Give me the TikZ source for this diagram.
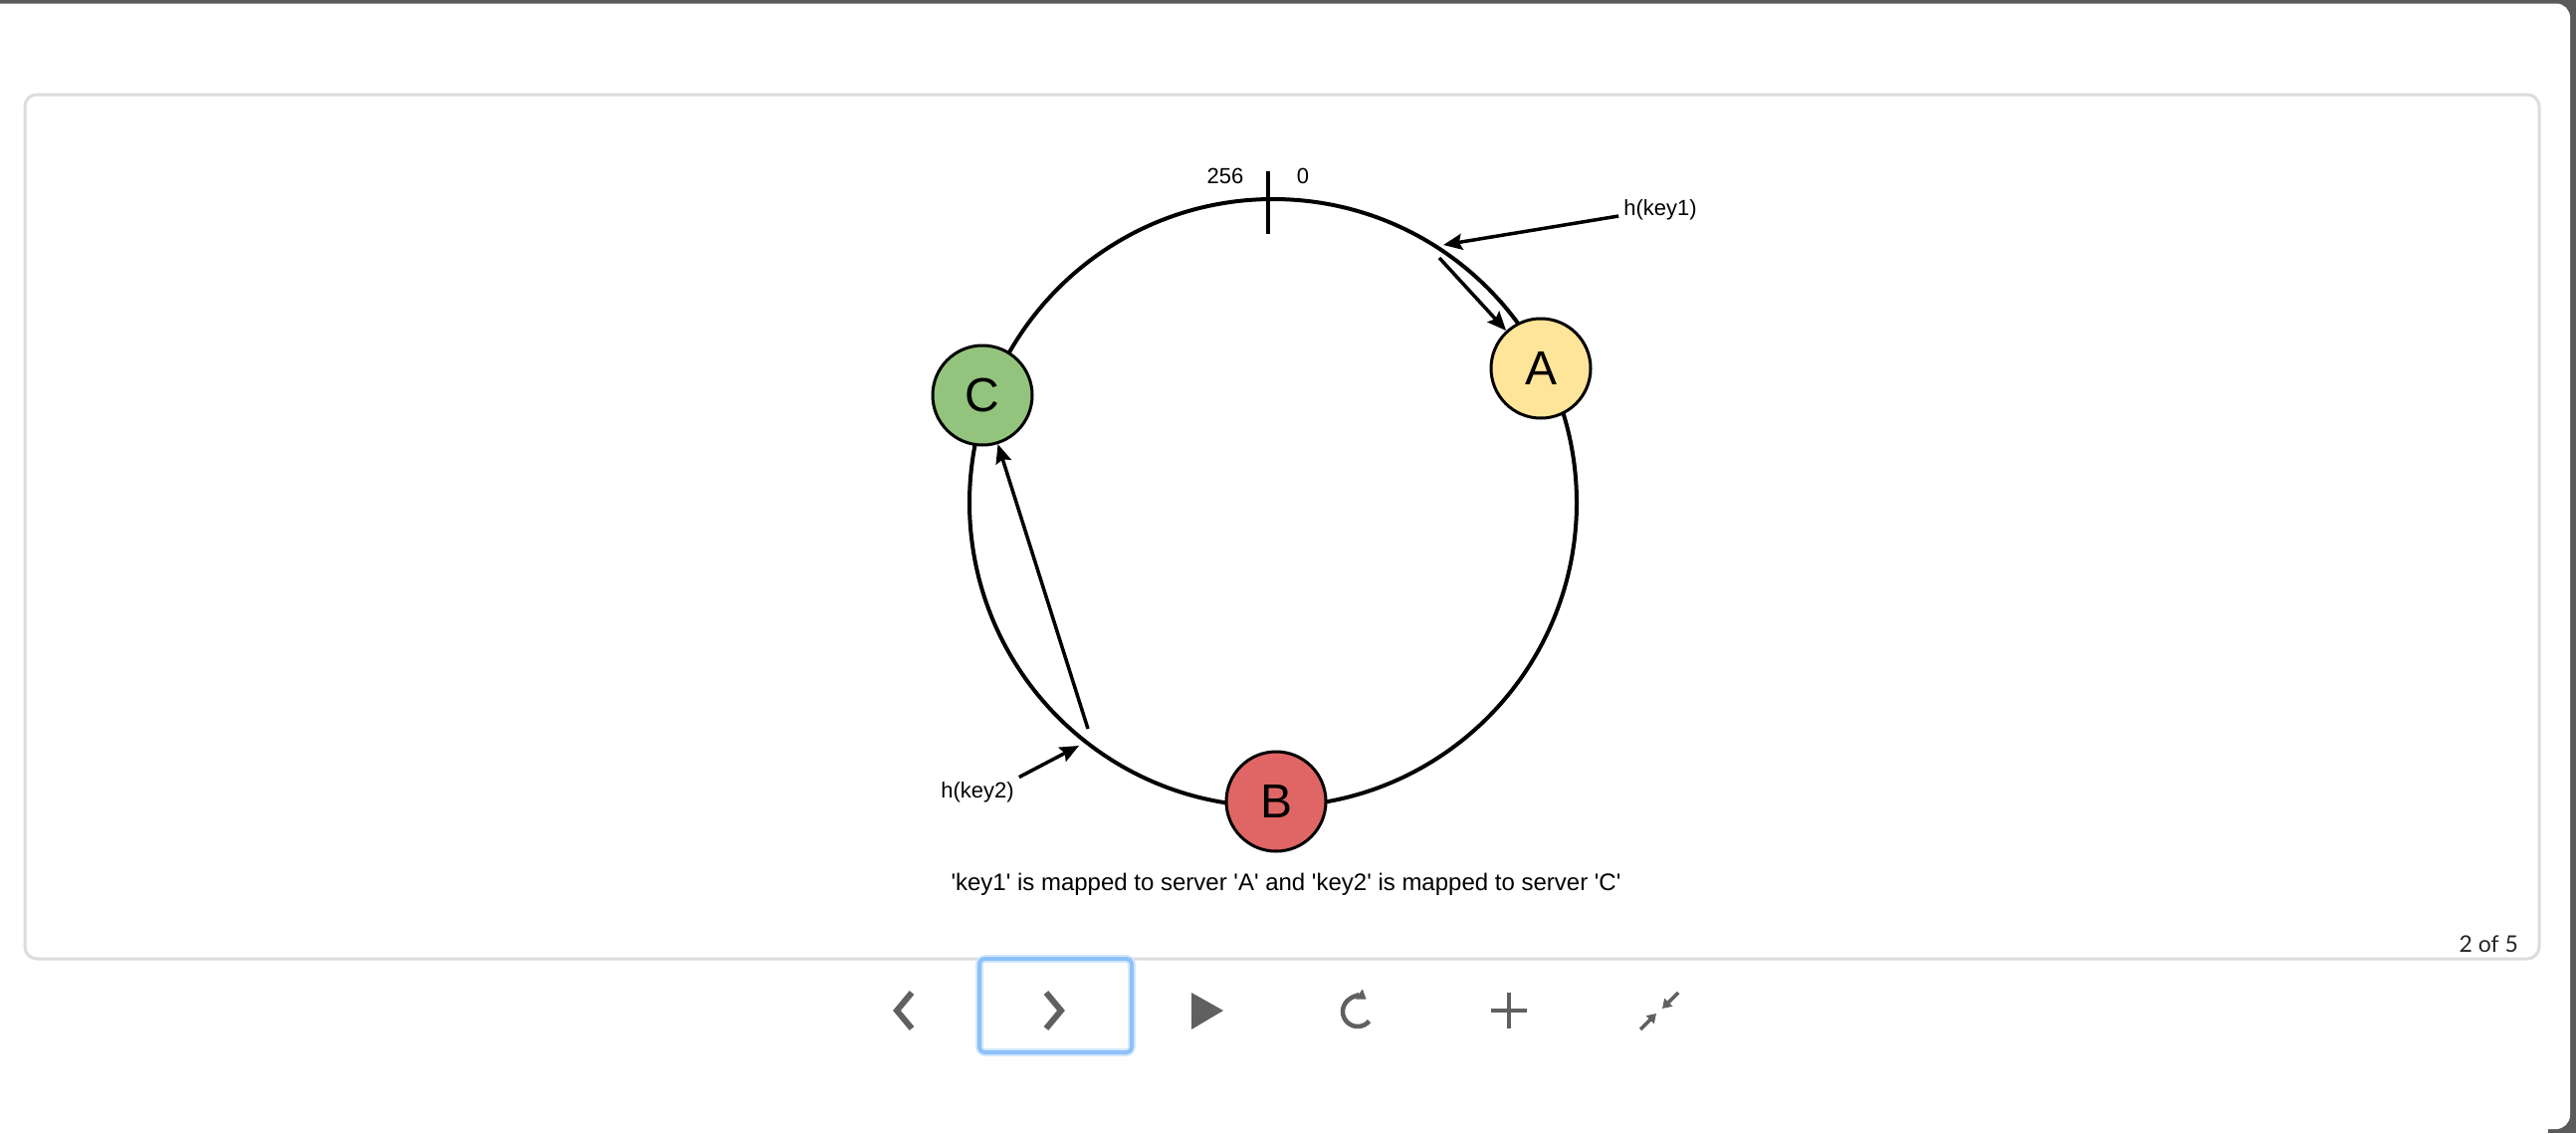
\documentclass[tikz,border=0pt]{standalone}
\usepackage{fontspec}
\setmainfont{Liberation Sans}
\newfontfamily\uifont{Lato}
\usetikzlibrary{arrows.meta}

\definecolor{framegray}{HTML}{5A5A5A}
\definecolor{cardline}{HTML}{DCDCDC}
\definecolor{focusblue}{HTML}{8DC1F9}
\definecolor{focushalo}{HTML}{D4E8FD}
\definecolor{icongray}{HTML}{606060}
\definecolor{fillA}{HTML}{FFE599}
\definecolor{fillB}{HTML}{E06666}
\definecolor{fillC}{HTML}{93C47D}

% straight single quote
\newcommand{\sq}{\textquotesingle}

\begin{document}
\begin{tikzpicture}[x=1pt,y=-1pt,
  server/.style={circle,draw=black,line width=3pt,minimum size=100pt,inner sep=0pt,
    font=\fontsize{48}{48}\selectfont},
  ringstyle/.style={circle,draw=black,line width=4pt,minimum size=610pt,inner sep=0pt},
  arr/.style={draw=black,line width=3.5pt,-{Stealth[length=19pt,width=16pt,inset=3pt]}},
  lbl/.style={inner sep=5pt,font=\fontsize{22}{26}\selectfont},
  iconline/.style={draw=icongray,line width=6pt},
]
\useasboundingbox (0,0) rectangle (2588,1138);

% window frame
\fill[framegray] (0,0) rectangle (2588,1138);
\fill[white] (-40,3.5) -- (2568,3.5) arc[start angle=-90,end angle=0,radius=14]
  -- (2582,1120) arc[start angle=0,end angle=90,radius=14] -- (-40,1134) -- cycle;
\fill[white] (-40,1133) rectangle (2560,1140);

% slide card
\draw[cardline,line width=3pt,rounded corners=12pt] (25,95) rectangle (2551,963);

% hash ring
\node[ringstyle] (ring) at (1279,505) {};
\coordinate (tickT) at (1274,172);
\coordinate (tickB) at (1274,235);
\draw[line width=3.5pt] (tickT) -- (tickB);
\node[lbl,inner sep=0pt] (lmax) at (1231,177) {256};
\node[lbl,inner sep=0pt] (lmin) at (1309,177) {0};

% servers
\node[server,fill=fillA] (A) at (1548,370) {A};
\node[server,fill=fillB] (B) at (1282,805) {B};
\node[server,fill=fillC] (C) at (987,397) {C};

% key1 -> A
\node[lbl] (k1lab) at (1668,211) {h(key1)};
\coordinate (k1) at (1450,246);
\coordinate (k1in) at (1446,259);
\draw[arr] ([yshift=-6pt]k1lab.west) -- (k1);
\draw[arr] (k1in) -- (A);

% key2 -> C
\node[lbl] (k2lab) at (982,796) {h(key2)};
\coordinate (k2) at (1084,749);
\coordinate (k2in) at (1093,732);
\draw[arr] (k2lab.north east) -- (k2);
\draw[arr] (k2in) -- (C);

% caption
\node[inner sep=0pt,font=\fontsize{24}{28}\selectfont] (caption) at (1292,888)
  {\sq key1\sq{} is mapped to server \sq A\sq{} and \sq key2\sq{} is mapped to server \sq C\sq};

% slide counter
\node[anchor=east,inner sep=0pt,text=black!85,font=\uifont\fontsize{23}{26}\selectfont]
  (counter) at (2530,948) {2 of 5};

% player controls
\draw[focushalo,line width=8pt,rounded corners=6pt] (984,963) rectangle (1137,1057);
\draw[focusblue,line width=4pt,rounded corners=5pt] (984,963) rectangle (1137,1057);
\draw[iconline,line join=miter] (916,997) -- (901,1015) -- (916,1033);
\draw[iconline,line join=miter] (1051,997) -- (1066,1015) -- (1051,1033);
\fill[icongray] (1197,997) -- (1229,1015) -- (1197,1034) -- cycle;
\draw[iconline,line width=4.5pt,-{Triangle[length=9pt,width=12pt]}]
  (1364,1016) ++(40:15) arc[start angle=40,end angle=305,radius=15];
\draw[draw=icongray,line width=4pt] (1498,1015) -- (1534,1015);
\draw[draw=icongray,line width=4pt] (1516,997) -- (1516,1033);
\draw[draw=icongray,line width=3.5pt,-{Triangle[length=9pt,width=11pt]}] (1686,997) -- (1670,1013);
\draw[draw=icongray,line width=3.5pt,-{Triangle[length=9pt,width=11pt]}] (1648,1034) -- (1664,1018);
\end{tikzpicture}
\end{document}
